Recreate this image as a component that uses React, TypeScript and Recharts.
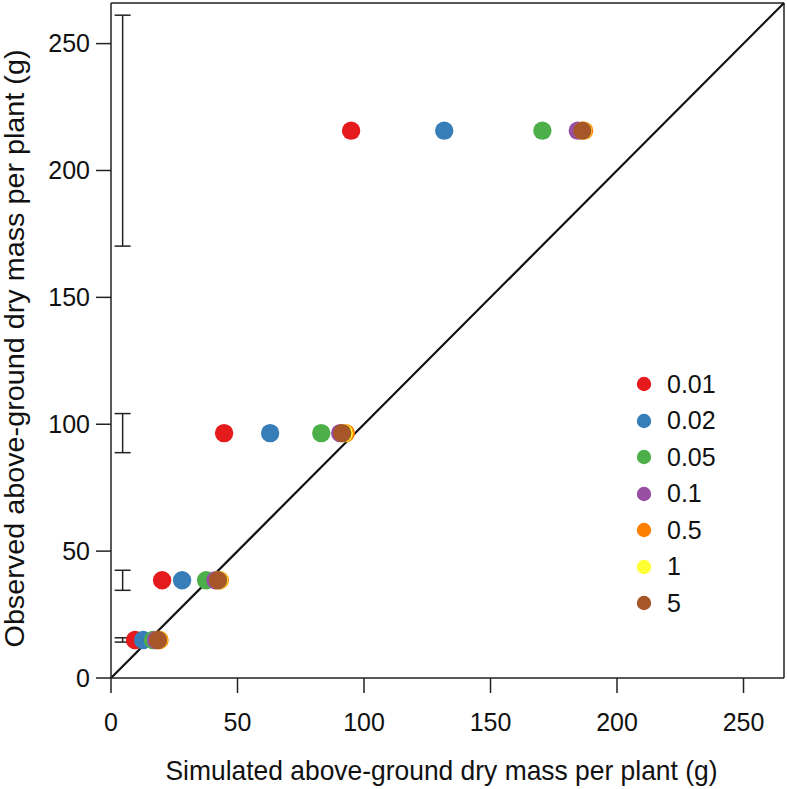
import React from 'react';
import {
  ComposedChart,
  Scatter,
  XAxis,
  YAxis,
  ReferenceLine,
  ErrorBar,
  Legend,
  Label,
} from 'recharts';

// Observed values (y) for the four harvests
const observed = [15.0, 38.5, 96.5, 215.7];
// Half-width of observed error bars
const observedErr = [0.85, 3.95, 7.7, 45.5];
const errorBarX = 4.6;

// Simulated values (x) per parameter setting
const groupNames = ['0.01', '0.02', '0.05', '0.1', '0.5', '1', '5'];
const groupColors = ['#E41A1C', '#377EB8', '#4DAF4A', '#984EA3', '#FF7F00', '#FFFF33', '#A65628'];
const sim001 = [9.5, 20.2, 44.7, 94.9];
const sim002 = [12.7, 28.1, 62.9, 131.7];
const sim005 = [16.6, 37.6, 83.1, 170.5];
const sim01 = [17.8, 41.3, 90.6, 184.5];
const sim05 = [19.2, 43.0, 92.8, 187.0];
const sim1 = [18.8, 42.6, 92.0, 186.5];
const sim5 = [18.6, 42.3, 91.4, 186.3];
const simulated = [sim001, sim002, sim005, sim01, sim05, sim1, sim5];

const axisTicks = [0, 50, 100, 150, 200, 250];
const axisMax = 266;

const xTitle = 'Simulated above-ground dry mass per plant (g)';
const yTitle = 'Observed above-ground dry mass per plant (g)';

const FONT = '"Liberation Sans", Arial, Helvetica, sans-serif';
const INK = '#222';

const series = groupNames.map((name, i) => ({
  name,
  color: groupColors[i],
  data: simulated[i].map((x, j) => ({ x, y: observed[j] })),
}));

const errorData = observed.map((y, j) => ({ x: errorBarX, y, err: observedErr[j] }));

const XTick = (props: any) => {
  const { x, y, payload } = props;
  return (
    <text x={x} y={y} dy="0.71em" textAnchor="middle" fontFamily={FONT} fontSize={25} fill="#111">
      {payload.value}
    </text>
  );
};

const YTick = (props: any) => {
  const { x, y, payload } = props;
  return (
    <text x={x} y={y} dy="0.355em" textAnchor="end" fontFamily={FONT} fontSize={25} fill="#111">
      {payload.value}
    </text>
  );
};

const renderLegend = (props: any) => {
  const items = (props.payload || []).filter((p: any) => groupNames.includes(p.value));
  return (
    <div style={{ fontFamily: FONT, fontSize: 25, color: '#111' }}>
      {items.map((p: any) => (
        <div key={p.value} style={{ display: 'flex', alignItems: 'center', height: 36.5 }}>
          <svg width={16} height={16} style={{ display: 'block' }}>
            <circle cx={8} cy={8} r={7.2} fill={p.color} />
          </svg>
          <span style={{ marginLeft: 15, lineHeight: '25px' }}>{p.value}</span>
        </div>
      ))}
    </div>
  );
};

export default function App() {
  return (
    <div style={{ position: 'absolute', left: 0, top: 0, background: '#fff' }}>
      <ComposedChart width={787} height={789} margin={{ top: 3, right: 3, left: 0, bottom: 0 }}>
        <XAxis
          type="number"
          dataKey="x"
          domain={[0, axisMax]}
          ticks={axisTicks}
          allowDataOverflow
          height={111}
          tickSize={15}
          tickMargin={20}
          tick={<XTick />}
          axisLine={{ stroke: INK, strokeWidth: 1.5 }}
          tickLine={{ stroke: INK, strokeWidth: 1.5 }}
        >
          <Label
            content={(p: any) => {
              const vb = p.viewBox;
              return (
                <text
                  x={vb.x + vb.width / 2 - 6}
                  y={780}
                  textAnchor="middle"
                  fontFamily={FONT}
                  fontSize={28}
                  textLength={552}
                  lengthAdjust="spacingAndGlyphs"
                  fill="#111"
                >
                  {xTitle}
                </text>
              );
            }}
          />
        </XAxis>
        <YAxis
          type="number"
          dataKey="y"
          domain={[0, axisMax]}
          ticks={axisTicks}
          allowDataOverflow
          width={111}
          tickSize={15}
          tickMargin={6}
          tick={<YTick />}
          axisLine={{ stroke: INK, strokeWidth: 1.5 }}
          tickLine={{ stroke: INK, strokeWidth: 1.5 }}
        >
          <Label
            content={(p: any) => {
              const vb = p.viewBox;
              const cx = 24;
              const cy = vb.y + vb.height / 2 + 8;
              return (
                <text
                  x={cx}
                  y={cy}
                  transform={`rotate(-90, ${cx}, ${cy})`}
                  textAnchor="middle"
                  fontFamily={FONT}
                  fontSize={28}
                  textLength={598}
                  lengthAdjust="spacingAndGlyphs"
                  fill="#111"
                >
                  {yTitle}
                </text>
              );
            }}
          />
        </YAxis>
        <ReferenceLine y={axisMax} stroke={INK} strokeWidth={1.5} />
        <ReferenceLine x={axisMax} stroke={INK} strokeWidth={1.5} />
        <ReferenceLine
          segment={[
            { x: 0, y: 0 },
            { x: axisMax, y: axisMax },
          ]}
          stroke="#111"
          strokeWidth={2.2}
        />
        <Scatter
          name="err"
          data={errorData}
          legendType="none"
          isAnimationActive={false}
          shape={() => <g />}
        >
          <ErrorBar dataKey="err" direction="y" width={8} stroke={INK} strokeWidth={1.5} isAnimationActive={false} />
        </Scatter>
        {series.map((s) => (
          <Scatter
            key={s.name}
            name={s.name}
            data={s.data}
            fill={s.color}
            isAnimationActive={false}
            shape={(p: any) => <circle cx={p.cx} cy={p.cy} r={9.2} fill={s.color} />}
          />
        ))}
        <Legend
          layout="vertical"
          align="center"
          verticalAlign="middle"
          content={renderLegend}
          wrapperStyle={{ left: 636, top: 366, width: 130, height: 260 }}
        />
      </ComposedChart>
    </div>
  );
}
